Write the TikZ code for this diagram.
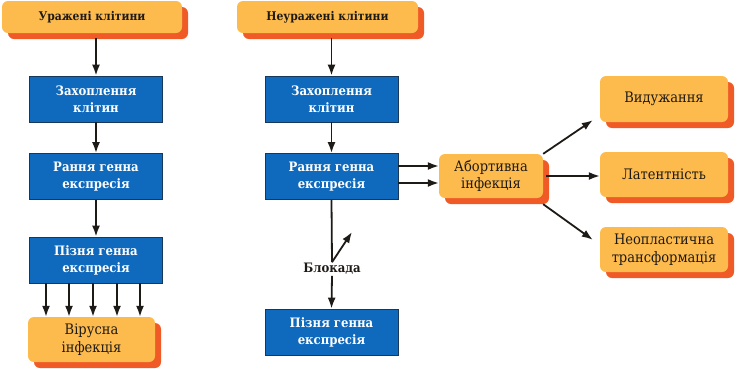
\documentclass[tikz,border=0pt]{standalone}
\usepackage{fontspec}
\setmainfont{DejaVu Serif}
\newfontfamily\bookface{DejaVu Serif Condensed}
\usetikzlibrary{arrows.meta, positioning, shadows, calc}
\definecolor{Peach}{HTML}{FDBB4E}
\definecolor{Ember}{HTML}{EF5A26}
\definecolor{Cobalt}{HTML}{0F69BD}
\definecolor{CobaltEdge}{HTML}{17385A}
\definecolor{Ink}{HTML}{1E1A16}

\begin{document}
\begin{tikzpicture}[
        x=1pt, y=-1pt,
        every node/.style={font=\bookface\fontsize{14.5}{17.5}\selectfont},
        peach/.style={rectangle, rounded corners=6pt, fill=Peach, align=center, text=Ink, inner sep=0pt,
            drop shadow={shadow xshift=6pt, shadow yshift=-6pt, fill=Ember, opacity=1}},
        title/.style={peach, font=\bookface\fontsize{12}{15}\selectfont\bfseries},
        stage/.style={rectangle, fill=Cobalt, draw=CobaltEdge, line width=0.8pt, align=center, text=white,
            font=\bookface\fontsize{13}{17}\selectfont\bfseries, minimum width=133pt, minimum height=46pt, inner sep=0pt},
        arrow/.style={-{Latex[length=11pt,width=8pt]}, line width=1.8pt, color=Ink},
        line/.style={line width=1.8pt, color=Ink}
    ]
    \useasboundingbox (0,0) rectangle (745,368);

    % infected cells
    \node[title, minimum width=180pt, minimum height=32pt] (infected) at (92,17) {Уражені клітини};
    \node[stage] (captureL) at (96,99) {Захоплення\\клітин};
    \node[stage] (earlyL) at (96,176.5) {Рання генна\\експресія};
    \node[stage] (lateL) at (96,260) {Пізня генна\\експресія};
    \node[peach, minimum width=127pt, minimum height=45pt] (virus) at (91.5,339.5) {Вірусна\\інфекція};

    % uninfected cells
    \node[title, minimum width=181pt, minimum height=32pt] (uninfected) at (327.5,17) {Неуражені клітини};
    \node[stage] (captureR) at (331.5,99) {Захоплення\\клітин};
    \node[stage] (earlyR) at (331.5,176.5) {Рання генна\\експресія};
    \node[font=\bookface\fontsize{13}{17}\selectfont\bfseries, text=Ink, inner sep=1pt] (block) at (332,269) {Блокада};
    \node[stage] (lateR) at (331.5,332) {Пізня генна\\експресія};
    \coordinate (escape) at (352,232);

    % outcomes
    \node[peach, minimum width=104pt, minimum height=44pt] (abortive) at (491,176) {Абортивна\\інфекція};
    \node[peach, minimum width=128pt, minimum height=46pt] (recovery) at (664,99) {Видужання};
    \node[peach, minimum width=128pt, minimum height=45pt] (latency) at (664,174.5) {Латентність};
    \node[peach, minimum width=128pt, minimum height=45pt] (neoplastic) at (664,249.5) {Неопластична\\трансформація};

    \draw[arrow] ([yshift=-5pt]infected.south -| captureL.north) -- (captureL.north);
    \draw[arrow] (captureL) -- (earlyL);
    \draw[arrow] (earlyL) -- (lateL);
    \foreach \dx in {-50,-27,-3,21,44}
        \draw[arrow] ([xshift=\dx pt]lateL.south) -- ([xshift=\dx pt]lateL.south |- virus.north);

    \draw[arrow] ([yshift=-5pt]uninfected.south -| captureR.north) -- (captureR.north);
    \draw[arrow] (captureR) -- (earlyR);
    \draw[arrow] ([yshift=10.5pt]earlyR.east) -- ([yshift=10.5pt]earlyR.east -| abortive.west);
    \draw[arrow] ([yshift=-6.5pt]earlyR.east) -- ([yshift=-6.5pt]earlyR.east -| abortive.west);
    \draw[line] (earlyR.south) -- (block.north);
    \draw[arrow] (block.north) -- (escape);
    \draw[arrow] (block.south) -- (lateR.north);

    \draw[arrow] (abortive.north east) -- ([xshift=-7pt,yshift=2pt]recovery.south west);
    \draw[arrow] ([xshift=3pt]abortive.east) -- (abortive.east -| latency.west);
    \draw[arrow] ([yshift=-6pt]abortive.south east) -- ([xshift=-7pt,yshift=-13pt]neoplastic.north west);
\end{tikzpicture}
\end{document}
